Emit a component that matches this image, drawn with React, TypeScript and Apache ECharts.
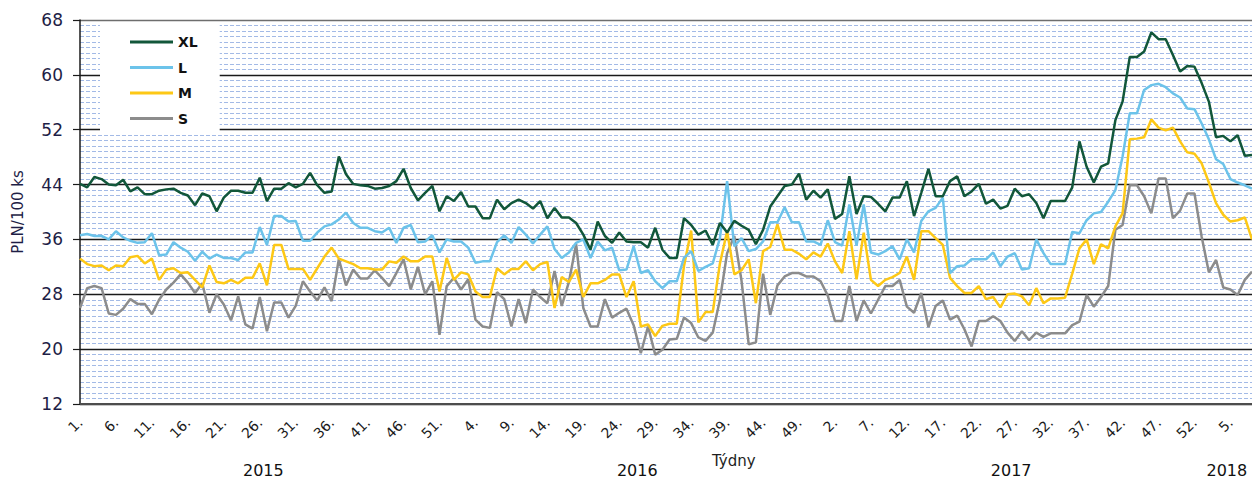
import React, { useEffect, useRef } from "react";
import * as echarts from "echarts";

const years = ["2015", "2016", "2017", "2018"];
const weeksPerYear = [52, 52, 52, 8];

const weekLabels: string[] = years.flatMap((_, i) =>
  Array.from({ length: weeksPerYear[i] }, (_, k) => `${k + 1}.`)
);

const yTicks = { min: 12, max: 68, step: 8 };

const seriesNames = ["XL", "L", "M", "S"];
const seriesColors = ["#12573a", "#6cc3ea", "#fdc816", "#8c8c8c"];

const xl = [
  44.1, 43.6, 45.1, 44.8, 44.0, 43.9, 44.7, 43.0, 43.6, 42.6,
  42.6, 43.1, 43.3, 43.4, 42.8, 42.4, 41.0, 42.7, 42.3, 40.1,
  42.1, 43.1, 43.1, 42.8, 42.8, 45.0, 41.6, 43.4, 43.4, 44.2,
  43.6, 44.1, 45.7, 43.9, 42.8, 43.0, 48.1, 45.5, 44.1, 43.9,
  43.8, 43.4, 43.5, 43.8, 44.5, 46.3, 43.5, 41.7, 42.8, 43.8,
  40.1, 42.3, 41.6, 42.9, 40.8, 40.8, 39.1, 39.1, 41.8, 40.4,
  41.3, 41.8, 41.3, 40.5, 41.6, 39.1, 40.6, 39.2, 39.2, 38.4,
  36.7, 34.5, 38.6, 36.5, 35.5, 37.0, 35.7, 35.6, 35.6, 34.8,
  37.7, 34.5, 33.3, 33.3, 39.1, 38.1, 36.7, 37.3, 35.2, 38.4,
  37.0, 38.7, 38.0, 37.4, 35.3, 37.4, 40.8, 42.3, 43.8, 44.0,
  45.6, 41.8, 43.1, 42.1, 43.3, 39.0, 39.7, 45.2, 39.7, 42.3,
  42.2, 41.2, 40.1, 42.1, 42.1, 44.5, 39.4, 42.8, 46.3, 42.3,
  42.3, 44.5, 45.2, 42.3, 43.0, 44.1, 41.2, 41.8, 40.5, 40.9,
  43.4, 42.3, 42.6, 41.3, 39.1, 41.6, 41.6, 41.6, 43.6, 50.3,
  46.6, 44.3, 46.6, 47.1, 53.4, 56.1, 62.6, 62.6, 63.4, 66.2,
  65.2, 65.2, 62.9, 60.5, 61.3, 61.2, 58.8, 56.1, 50.9, 51.1,
  50.3, 51.2, 48.2, 48.3,
];

const l = [
  36.6, 36.8, 36.5, 36.5, 36.0, 37.2, 36.3, 35.8, 35.5, 35.6,
  36.9, 33.7, 33.8, 35.6, 34.8, 34.2, 32.9, 34.2, 33.2, 33.8,
  33.3, 33.3, 33.0, 34.1, 34.1, 37.8, 35.2, 39.4, 39.4, 38.6,
  38.7, 35.8, 35.8, 37.0, 37.9, 38.2, 38.9, 39.9, 38.4, 37.7,
  37.7, 37.2, 37.0, 37.7, 35.5, 37.7, 38.1, 35.6, 35.7, 36.6,
  34.1, 36.0, 35.7, 35.7, 34.8, 32.6, 32.8, 32.8, 35.6, 36.6,
  35.5, 37.8, 36.7, 35.4, 36.7, 37.9, 34.6, 33.3, 34.1, 35.5,
  36.0, 33.3, 35.7, 34.4, 34.8, 31.5, 31.6, 35.0, 31.1, 31.5,
  29.9, 28.9, 29.9, 29.9, 33.3, 34.3, 31.4, 32.0, 32.5, 36.2,
  44.5, 35.0, 36.2, 34.3, 34.6, 35.7, 38.5, 38.5, 40.7, 38.5,
  38.5, 35.7, 35.7, 35.2, 38.8, 35.6, 35.1, 41.1, 35.1, 41.1,
  34.1, 33.8, 34.3, 35.0, 33.1, 36.0, 34.1, 38.7, 40.1, 40.6,
  42.1, 31.1, 32.1, 32.2, 33.1, 33.1, 33.1, 34.1, 32.1, 33.5,
  34.0, 31.6, 31.8, 36.0, 34.0, 32.4, 32.4, 32.4, 37.1, 36.9,
  38.8, 39.8, 40.0, 41.5, 43.2, 48.1, 54.4, 54.4, 57.8, 58.5,
  58.7, 58.2, 57.3, 56.7, 55.1, 55.0, 52.9, 50.6, 47.7, 47.0,
  44.8, 44.3, 43.9, 43.4,
];

const m = [
  33.2, 32.4, 32.1, 32.2, 31.5, 32.2, 32.1, 33.4, 33.6, 32.5,
  33.2, 30.1, 31.6, 31.8, 31.1, 31.2, 30.1, 29.0, 32.2, 29.8,
  29.6, 30.1, 29.6, 30.4, 30.4, 32.5, 29.3, 35.2, 35.2, 31.7,
  31.7, 31.7, 30.1, 31.8, 33.5, 34.8, 33.2, 32.8, 32.4, 31.8,
  31.8, 31.6, 31.6, 32.8, 32.6, 33.5, 32.8, 32.8, 33.5, 33.5,
  28.4, 33.3, 30.1, 31.2, 30.9, 28.4, 27.6, 27.6, 31.8, 30.9,
  31.7, 31.7, 32.8, 31.5, 32.4, 32.7, 26.0, 30.5, 29.8, 31.6,
  27.6, 29.6, 29.6, 30.1, 30.9, 30.9, 27.6, 29.9, 23.3, 23.6,
  21.9, 23.4, 23.7, 23.7, 32.1, 37.3, 23.9, 25.4, 25.4, 32.5,
  37.2, 30.9, 31.5, 33.1, 26.7, 34.3, 34.9, 38.2, 34.5, 34.5,
  33.9, 33.1, 34.1, 33.5, 35.4, 32.8, 31.1, 37.2, 30.2, 37.0,
  30.1, 29.2, 30.1, 30.5, 31.1, 33.5, 30.1, 37.2, 37.2, 36.2,
  35.2, 30.4, 29.2, 28.2, 28.2, 29.2, 27.3, 27.6, 26.1, 28.0,
  28.1, 27.7, 26.4, 28.9, 26.7, 27.4, 27.4, 27.5, 31.0, 34.7,
  36.0, 32.4, 35.3, 34.7, 37.9, 39.8, 50.6, 50.7, 50.9, 53.5,
  52.3, 51.9, 52.3, 50.3, 48.7, 48.5, 47.1, 44.3, 41.3, 39.6,
  38.6, 38.8, 39.2, 36.0,
];

const s = [
  26.0, 28.9, 29.2, 28.9, 25.2, 25.0, 25.9, 27.3, 26.6, 26.6,
  25.1, 27.2, 28.7, 29.7, 30.9, 29.7, 28.2, 29.6, 25.3, 28.0,
  26.5, 24.2, 27.7, 23.6, 23.0, 27.6, 22.6, 26.8, 26.8, 24.6,
  26.3, 29.9, 28.4, 27.1, 29.0, 27.0, 33.1, 29.3, 31.6, 30.3,
  30.3, 31.5, 30.4, 29.2, 31.1, 33.1, 28.7, 32.0, 28.0, 29.9,
  22.1, 29.2, 30.4, 28.7, 30.2, 24.3, 23.3, 23.1, 28.3, 27.3,
  23.3, 27.3, 23.8, 28.7, 27.6, 26.7, 31.4, 26.3, 29.8, 35.3,
  26.0, 23.3, 23.3, 27.3, 24.6, 25.3, 25.9, 23.5, 19.4, 23.3,
  19.2, 19.9, 21.4, 21.5, 24.6, 23.8, 21.7, 21.2, 22.4, 27.2,
  34.0, 36.5, 30.0, 20.7, 21.0, 31.0, 25.0, 29.3, 30.6, 31.1,
  31.1, 30.6, 30.6, 29.9, 27.8, 24.1, 24.1, 29.2, 24.1, 27.1,
  25.2, 27.2, 29.2, 29.2, 30.1, 26.2, 25.3, 28.2, 23.2, 26.3,
  27.1, 24.3, 24.9, 22.9, 20.4, 24.1, 24.1, 24.8, 24.1, 22.4,
  21.2, 22.6, 21.3, 22.4, 21.8, 22.3, 22.3, 22.3, 23.5, 24.0,
  27.9, 26.2, 27.6, 29.2, 37.4, 38.1, 43.9, 43.9, 42.3, 39.8,
  44.9, 44.9, 39.1, 40.2, 42.7, 42.7, 36.4, 31.2, 33.0, 29.0,
  28.7, 27.9, 30.1, 31.3,
];

const seriesData = [xl, l, m, s];

// year label positions: middle of each year's run of weeks
const yearCenters: number[] = [];
{
  let start = 0;
  weeksPerYear.forEach((w) => {
    yearCenters.push(start + (w - 1) / 2);
    start += w;
  });
}

const FONT = "DejaVu Sans, Verdana, sans-serif";

export default function App() {
  const ref = useRef<HTMLDivElement>(null);

  useEffect(() => {
    if (!ref.current) return;
    const chart = echarts.init(ref.current, undefined, { renderer: "svg" });

    const nMajor = (yTicks.max - yTicks.min) / yTicks.step + 1;
    const splitColors = Array.from({ length: nMajor }, (_, i) =>
      i === nMajor - 1 ? "#6e6e6e" : "#1a1a1a"
    );

    chart.setOption({
      animation: false,
      backgroundColor: "#ffffff",
      textStyle: { fontFamily: FONT },
      grid: { left: 80, right: 0, top: 20, bottom: 77, containLabel: false },
      legend: {
        show: true,
        orient: "vertical",
        left: 100,
        top: 25,
        padding: [10, 22, 6, 30],
        backgroundColor: "#ffffff",
        icon: "rect",
        itemWidth: 43,
        itemHeight: 3,
        itemGap: 11.5,
        data: seriesNames,
        textStyle: {
          fontFamily: FONT,
          fontSize: 14,
          fontWeight: "bold",
          color: "#111111",
          lineHeight: 14,
        },
      },
      xAxis: [
        {
          type: "category",
          data: weekLabels,
          boundaryGap: false,
          axisLine: { show: true, lineStyle: { color: "#4d4d4d", width: 2 } },
          axisTick: { show: false },
          splitLine: { show: false },
          axisLabel: {
            interval: 4,
            rotate: 45,
            margin: 16,
            fontFamily: FONT,
            fontSize: 14,
            color: "#1a1a1a",
          },
        },
        {
          type: "value",
          min: 0,
          max: weekLabels.length - 1,
          position: "bottom",
          axisLine: { show: false },
          axisTick: { show: false },
          splitLine: { show: false },
          axisLabel: {
            customValues: yearCenters,
            showMinLabel: true,
            showMaxLabel: true,
            margin: 58,
            fontFamily: FONT,
            fontSize: 16,
            color: "#111111",
            formatter: (v: number) => {
              let best = 0;
              yearCenters.forEach((c, i) => {
                if (Math.abs(c - v) < Math.abs(yearCenters[best] - v)) best = i;
              });
              return years[best];
            },
          },
        },
      ],
      yAxis: {
        type: "value",
        min: yTicks.min,
        max: yTicks.max,
        interval: yTicks.step,
        name: "PLN/100 ks",
        nameLocation: "middle",
        nameGap: 55,
        nameTextStyle: { fontFamily: FONT, fontSize: 15, color: "#1e1e46" },
        axisLine: { show: true, lineStyle: { color: "#1a1a1a", width: 1.5 } },
        axisTick: { show: true, inside: false, length: 7, lineStyle: { color: "#1a1a1a", width: 1.2 } },
        axisLabel: {
          margin: 17,
          fontFamily: FONT,
          fontSize: 17,
          color: "#1e1e46",
        },
        splitLine: { show: true, lineStyle: { color: splitColors, width: 1.3 } },
        minorTick: { show: false, splitNumber: 10 },
        minorSplitLine: {
          show: true,
          lineStyle: { color: "#a3bae6", width: 1, type: [4, 2] },
        },
      },
      graphic: [
        {
          type: "text",
          left: 712,
          top: 453,
          style: {
            text: "Týdny",
            font: `15px ${FONT}`,
            fill: "#1e1e1e",
          },
        },
      ],
      series: seriesNames.map((name, i) => ({
        name,
        type: "line",
        xAxisIndex: 0,
        data: seriesData[i],
        showSymbol: false,
        symbol: "none",
        lineStyle: { width: 2.5, color: seriesColors[i] },
        itemStyle: { color: seriesColors[i] },
        z: 10 - i,
      })),
    });

    return () => chart.dispose();
  }, []);

  return (
    <div
      ref={ref}
      style={{ position: "fixed", left: 0, top: 0, width: 1252, height: 481 }}
    />
  );
}
